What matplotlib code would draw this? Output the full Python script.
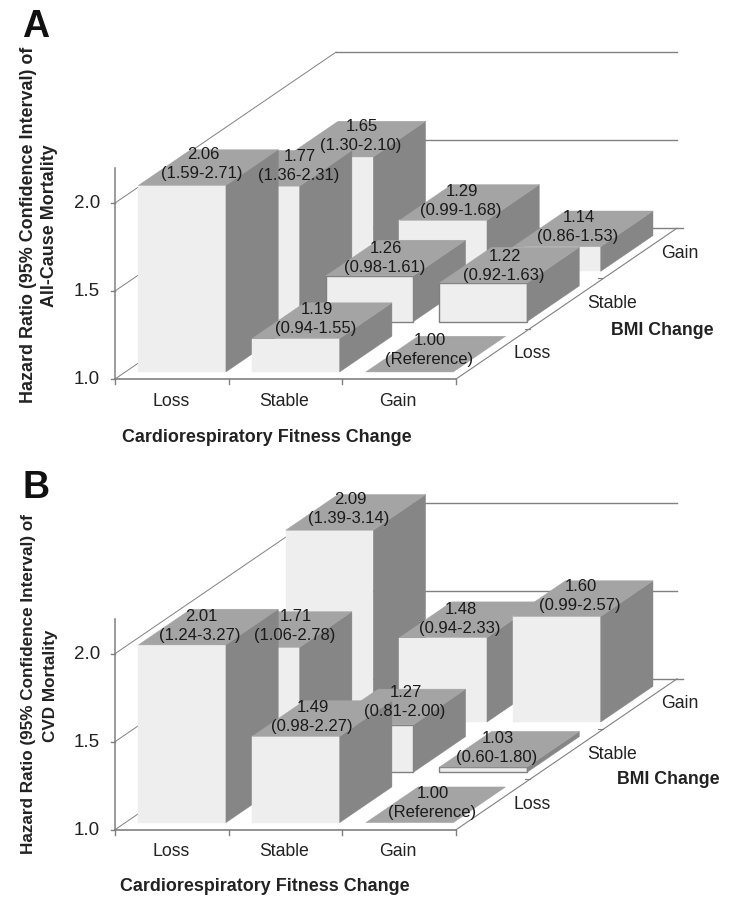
import matplotlib
matplotlib.use("Agg")
import matplotlib.pyplot as plt

plt.rcParams['font.family'] = ['Liberation Sans', 'DejaVu Sans']

fitness_labels = ['Loss', 'Stable', 'Gain']
bmi_labels = ['Loss', 'Stable', 'Gain']
y_ticks = [1.0, 1.5, 2.0]

# rows are BMI change (loss, stable, gain), columns are fitness change
hr_a = [[2.06, 1.19, 1.00],
        [1.77, 1.26, 1.22],
        [1.65, 1.29, 1.14]]
ci_a = [['(1.59-2.71)', '(0.94-1.55)', '(Reference)'],
        ['(1.36-2.31)', '(0.98-1.61)', '(0.92-1.63)'],
        ['(1.30-2.10)', '(0.99-1.68)', '(0.86-1.53)']]

hr_b = [[2.01, 1.49, 1.00],
        [1.71, 1.27, 1.03],
        [2.09, 1.48, 1.60]]
ci_b = [['(1.24-3.27)', '(0.98-2.27)', '(Reference)'],
        ['(1.06-2.78)', '(0.81-2.00)', '(0.60-1.80)'],
        ['(1.39-3.14)', '(0.94-2.33)', '(0.99-2.57)']]

# label centres in pixels, same layout as the values
pos_a = [[(202, 164), (316, 319), (429, 350)],
         [(299, 166), (385, 258), (504, 266)],
         [(361, 136), (461, 201), (578, 227)]]
pos_b = [[(200, 626), (312, 717), (432, 803)],
         [(295, 626), (405, 702), (497, 748)],
         [(349, 509), (460, 619), (580, 596)]]

X0 = 115
COL_W = 113.7
ROW_DX = 73.67
ROW_DY = 50.3
UNIT = 176
BAR_COL = (0.115, 0.885)
BAR_ROW = (0.14, 0.85)

LINE = '#808080'
FRONT = '#eeeeee'
SIDE = '#868686'
TOP = '#a4a4a4'
TEXT = '#222222'


def project(col, row, val, y0):
    x = X0 + col * COL_W + row * ROW_DX
    y = y0 - (val - 1.0) * UNIT - row * ROW_DY
    return x, y


def poly(ax, pts, color, edge=None, z=2):
    xs = [p[0] for p in pts]
    ys = [p[1] for p in pts]
    ax.fill(xs, ys, facecolor=color, edgecolor=edge if edge else color,
            linewidth=1.0 if edge else 0.3, zorder=z)


def draw_bar(ax, col, row, val, y0, z):
    c0, c1 = col + BAR_COL[0], col + BAR_COL[1]
    r0, r1 = row + BAR_ROW[0], row + BAR_ROW[1]
    edge = LINE if (row == 1 and col > 0) else None
    if val > 1.0:
        poly(ax, [project(c0, r0, 1.0, y0), project(c1, r0, 1.0, y0),
                  project(c1, r0, val, y0), project(c0, r0, val, y0)], FRONT, edge, z)
        poly(ax, [project(c1, r0, 1.0, y0), project(c1, r1, 1.0, y0),
                  project(c1, r1, val, y0), project(c1, r0, val, y0)], SIDE, None, z)
    poly(ax, [project(c0, r0, val, y0), project(c1, r0, val, y0),
              project(c1, r1, val, y0), project(c0, r1, val, y0)], TOP, None, z)


def draw_panel(ax, hr, ci, pos, y0, letter, letter_y, ylab, ylab_y, ylab2_y,
               xlab_xy, bmi_xy, ylab_size):
    # wall lines
    for t in y_ticks:
        ax.plot(*zip(project(0, 0, t, y0), project(0, 3, t, y0)), color=LINE, lw=0.7, zorder=1)
        if t > 1.0:
            ax.plot(*zip(project(0, 3, t, y0), project(3, 3, t, y0)),
                    color=LINE, lw=1.0, zorder=1)
    a = project(0, 3, 1.0, y0)
    b = project(3, 3, 1.0, y0)
    ax.plot([a[0], b[0] + 6], [a[1], b[1]], color=LINE, lw=1.0, zorder=1)

    # axes
    ax.plot([X0, X0], [y0 - 1.2 * UNIT, y0], color=LINE, lw=1.1, zorder=1)
    for t in y_ticks:
        _, y = project(0, 0, t, y0)
        ax.plot([X0 - 4, X0], [y, y], color=LINE, lw=1.0, zorder=1)
        ax.text(X0 - 15, y + 0.5, '%.1f' % t, ha='right', va='center', fontsize=13.5, color=TEXT)
    ax.plot(*zip(project(0, 0, 1.0, y0), project(3, 0, 1.0, y0)), color=LINE, lw=1.2, zorder=1)
    ax.plot(*zip(project(3, 0, 1.0, y0), project(3, 3, 1.0, y0)), color=LINE, lw=0.8, zorder=1)
    for i in range(4):
        x, y = project(i, 0, 1.0, y0)
        ax.plot([x, x], [y, y + 5], color=LINE, lw=1.0, zorder=1)
    for i in range(1, 3):
        x, y = project(3, i, 1.0, y0)
        ax.plot([x - 5, x], [y, y], color=LINE, lw=0.8, zorder=1)

    for i, name in enumerate(fitness_labels):
        x, _ = project(i + 0.5, 0, 1.0, y0)
        ax.text(x - 1, y0 + 22, name, ha='center', va='center', fontsize=12.7, color=TEXT)
    for i, name in enumerate(bmi_labels):
        x, y = project(3, i + 0.5, 1.0, y0)
        ax.text(x + 21, y, name, ha='left', va='center', fontsize=12.7, color=TEXT)

    # bars, back row first
    z = 2
    for row in [2, 1, 0]:
        for col in range(3):
            draw_bar(ax, col, row, hr[row][col], y0, z)
            z += 1

    for row in range(3):
        for col in range(3):
            x, y = pos[row][col]
            ax.text(x + 1, y - 9.5, '%.2f' % hr[row][col], ha='center', va='center',
                    fontsize=12, color='#1a1a1a', zorder=30)
            ax.text(x, y + 9.5, ci[row][col], ha='center', va='center',
                    fontsize=12, color='#1a1a1a', zorder=30)

    ax.text(36, letter_y, letter, ha='center', va='center', fontsize=27, fontweight='bold', color='#111111')
    ax.text(29, ylab_y, ylab[0], rotation=90, ha='center', va='center', fontsize=ylab_size,
            fontweight='bold', color=TEXT)
    ax.text(50, ylab2_y, ylab[1], rotation=90, ha='center', va='center', fontsize=ylab_size,
            fontweight='bold', color=TEXT)
    ax.text(xlab_xy[0], xlab_xy[1], 'Cardiorespiratory Fitness Change', ha='center', va='center',
            fontsize=12.9, fontweight='bold', color=TEXT)
    ax.text(bmi_xy[0], bmi_xy[1], 'BMI Change', ha='center', va='center',
            fontsize=12.8, fontweight='bold', color=TEXT)


fig = plt.figure(figsize=(7.39, 9.05), dpi=100)
ax = fig.add_axes([0, 0, 1, 1])
ax.set_xlim(0, 739)
ax.set_ylim(905, 0)
ax.axis('off')

draw_panel(ax, hr_a, ci_a, pos_a, 379, 'A', 27,
           ['Hazard Ratio (95% Confidence Interval) of', 'All-Cause Mortality'],
           225, 226, (267, 437), (662, 330), 12.85)
draw_panel(ax, hr_b, ci_b, pos_b, 829.7, 'B', 488,
           ['Hazard Ratio (95% Confidence Interval) of', 'CVD Mortality'],
           684, 686, (265, 886), (668, 779), 12.3)

fig.savefig('out.png', dpi=100)
